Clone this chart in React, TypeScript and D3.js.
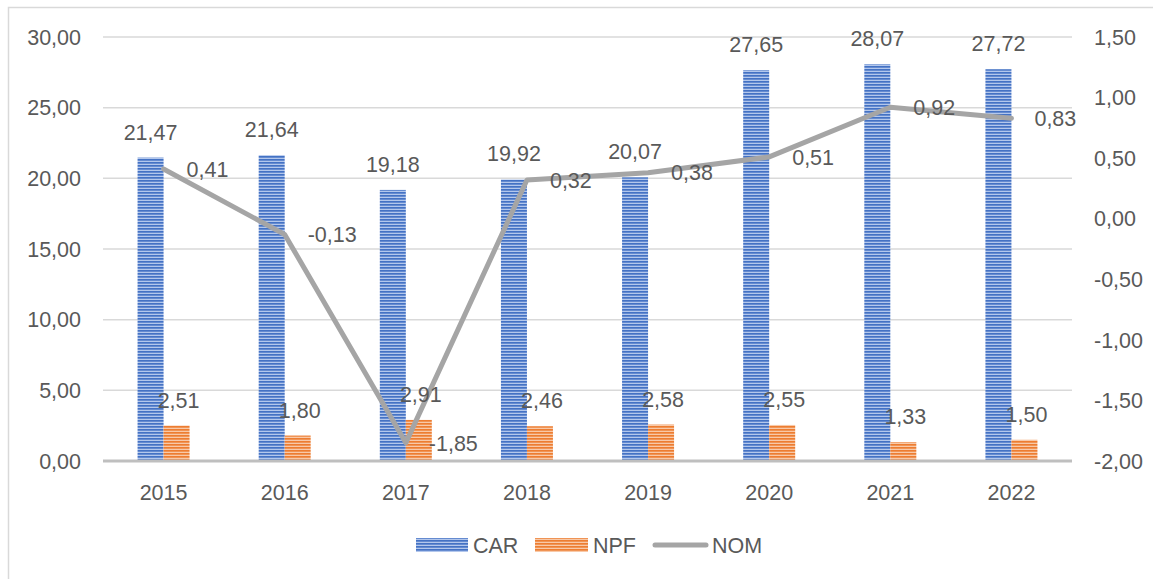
import React, { useEffect } from "react";
import * as d3 from "d3";

const years = ["2015", "2016", "2017", "2018", "2019", "2020", "2021", "2022"];
const carValues = [21.47, 21.64, 19.18, 19.92, 20.07, 27.65, 28.07, 27.72];
const npfValues = [2.51, 1.8, 2.91, 2.46, 2.58, 2.55, 1.33, 1.5];
const nomValues = [0.41, -0.13, -1.85, 0.32, 0.38, 0.51, 0.92, 0.83];
const leftTicks = [0, 5, 10, 15, 20, 25, 30];
const rightTicks = [-2, -1.5, -1, -0.5, 0, 0.5, 1, 1.5];
const seriesNames = ["CAR", "NPF", "NOM"];

const W = 1153;
const H = 579;
const FONT = "'Liberation Sans', Arial, sans-serif";
const TXT = "#595959";
const FS = 21.5;

const fmt = (v: number) => v.toFixed(2).replace(".", ",");

export default function App() {
  useEffect(() => {
    document.body.style.margin = "0";
  }, []);

  const x = d3.scaleBand<string>().domain(years).range([103, 1072]);
  const yL = d3.scaleLinear().domain([0, 30]).range([461, 37]);
  const yR = d3.scaleLinear().domain([-2, 1.5]).range([461, 37]);
  const barW = 26;
  const cx = (y: string) => (x(y) as number) + x.bandwidth() / 2;

  const line = d3
    .line<number>()
    .x((_, i) => cx(years[i]))
    .y((d) => yR(d));

  return (
    <svg
      width={W}
      height={H}
      style={{ position: "absolute", left: 0, top: 0, background: "#fff" }}
      fontFamily={FONT}
    >
      <defs>
        <pattern id="carPat" width={6} height={3} patternUnits="userSpaceOnUse">
          <rect width={6} height={3} fill="#b3c7ec" />
          <rect width={6} height={1.7} fill="#4472c4" />
        </pattern>
        <pattern id="npfPat" width={6} height={3} patternUnits="userSpaceOnUse">
          <rect width={6} height={3} fill="#f8c9a8" />
          <rect width={6} height={1.7} fill="#ed7d31" />
        </pattern>
      </defs>
      <rect x={0} y={0} width={W} height={H} fill="#fff" />
      <rect x={8.5} y={7.5} width={W + 20} height={H + 20} fill="none" stroke="#d9d9d9" strokeWidth={1.5} />

      {/* gridlines */}
      {leftTicks
        .filter((t) => t !== 0)
        .map((t) => (
          <line key={t} x1={103} x2={1072} y1={yL(t)} y2={yL(t)} stroke="#d9d9d9" strokeWidth={1.5} />
        ))}

      {/* left tick labels */}
      {leftTicks.map((t) => (
        <text key={t} x={81} y={yL(t)} dy="0.36em" textAnchor="end" fontSize={FS} fill={TXT}>
          {fmt(t)}
        </text>
      ))}
      {/* right tick labels */}
      {rightTicks.map((t) => (
        <text key={t} x={1094} y={yR(t)} dy="0.36em" textAnchor="start" fontSize={FS} fill={TXT}>
          {fmt(t)}
        </text>
      ))}

      {/* bars */}
      {years.map((yr, i) => (
        <g key={yr}>
          <rect x={cx(yr) - barW} y={yL(carValues[i])} width={barW} height={yL(0) - yL(carValues[i])} fill="url(#carPat)" />
          <rect x={cx(yr)} y={yL(npfValues[i])} width={barW} height={yL(0) - yL(npfValues[i])} fill="url(#npfPat)" />
        </g>
      ))}

      {/* baseline axis */}
      <line x1={103} x2={1072} y1={yL(0)} y2={yL(0)} stroke="#bfbfbf" strokeWidth={3} />

      {/* category labels */}
      {years.map((yr) => (
        <text key={yr} x={cx(yr)} y={500} textAnchor="middle" fontSize={FS} fill={TXT}>
          {yr}
        </text>
      ))}

      {/* NOM line */}
      <path d={line(nomValues) as string} fill="none" stroke="#a5a5a5" strokeWidth={5} strokeLinejoin="round" strokeLinecap="round" />

      {/* data labels */}
      {years.map((yr, i) => (
        <g key={yr}>
          <text x={cx(yr) - barW / 2} y={yL(carValues[i]) - 18} textAnchor="middle" fontSize={FS} fill={TXT}>
            {fmt(carValues[i])}
          </text>
          <text x={cx(yr) + barW / 2 + 2} y={yL(npfValues[i]) - 18} textAnchor="middle" fontSize={FS} fill={TXT}>
            {fmt(npfValues[i])}
          </text>
          <text x={cx(yr) + 23} y={yR(nomValues[i])} dy="0.36em" textAnchor="start" fontSize={FS} fill={TXT}>
            {fmt(nomValues[i])}
          </text>
        </g>
      ))}

      {/* legend */}
      <rect x={416} y={538} width={52} height={14} fill="url(#carPat)" />
      <text x={473} y={545} dy="0.36em" fontSize={FS} fill={TXT}>{seriesNames[0]}</text>
      <rect x={535} y={538} width={53} height={14} fill="url(#npfPat)" />
      <text x={593} y={545} dy="0.36em" fontSize={FS} fill={TXT}>{seriesNames[1]}</text>
      <line x1={655} x2={706} y1={545} y2={545} stroke="#a5a5a5" strokeWidth={5} strokeLinecap="round" />
      <text x={712} y={545} dy="0.36em" fontSize={FS} fill={TXT}>{seriesNames[2]}</text>
    </svg>
  );
}
